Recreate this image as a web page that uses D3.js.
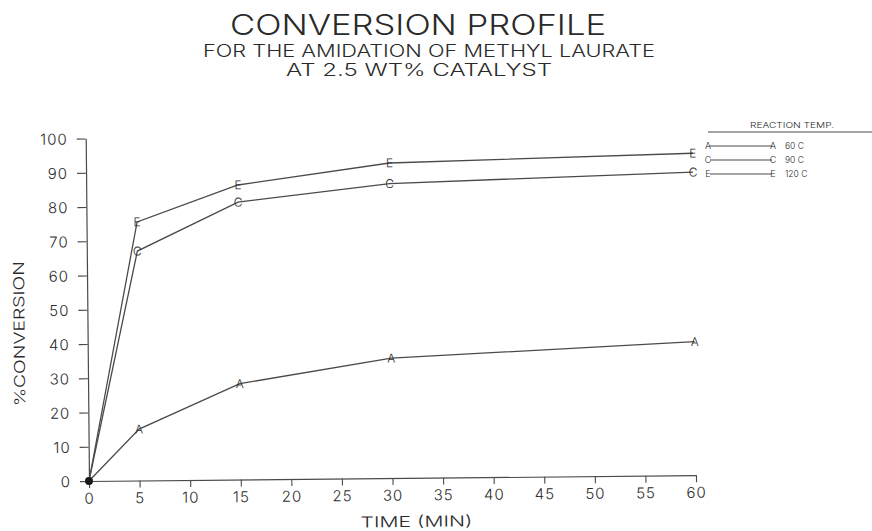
<!DOCTYPE html>
<html>
<head>
<meta charset="utf-8">
<script src="https://cdn.jsdelivr.net/npm/d3@7"></script>
<style>
  html, body { margin: 0; padding: 0; background: #fff; }
  svg { display: block; }
  text { font-family: Inter, "DejaVu Sans", sans-serif; font-weight: 300; fill: #2a2a2a; }
</style>
</head>
<body>
<svg id="chart" width="872" height="531"></svg>
<script>
// Reaction time (minutes) at which conversion was sampled
const times = [0, 5, 15, 30, 60];
// % conversion at each temperature
const conv60 = [0, 15, 28, 35, 39];
const conv90 = [0, 67, 81, 86, 88.5];
const conv120 = [0, 75.5, 86, 92, 94];
const seriesLabels = ["60 C", "90 C", "120 C"];
const seriesGlyphs = ["A", "C", "E"];
const xTicks = [0, 5, 10, 15, 20, 25, 30, 35, 40, 45, 50, 55, 60];
const yTicks = [0, 10, 20, 30, 40, 50, 60, 70, 80, 90, 100];
const titleLines = ["CONVERSION PROFILE", "FOR THE AMIDATION OF METHYL LAURATE", "AT 2.5 WT% CATALYST"];
const xTitle = "TIME (MIN)";
const yTitle = "%CONVERSION";
const legendTitle = "REACTION TEMP.";

const svg = d3.select("#chart");
const ink = "#4a4a4a";

// Titles
const titleSpecs = [
  { x: 418, y: 35, size: 28, len: 376 },
  { x: 429, y: 57, size: 17, len: 452 },
  { x: 419, y: 76, size: 17, len: 266 }
];
svg.selectAll("text.title").data(titleLines).join("text")
  .attr("class", "title")
  .attr("x", (d, i) => titleSpecs[i].x)
  .attr("y", (d, i) => titleSpecs[i].y)
  .attr("text-anchor", "middle")
  .attr("font-size", (d, i) => titleSpecs[i].size)
  .attr("textLength", (d, i) => titleSpecs[i].len)
  .attr("lengthAdjust", "spacingAndGlyphs")
  .text(d => d);

// Plot frame, origin at the axes' corner; the sheet sits slightly skewed on the plotter
const plot = svg.append("g").attr("transform", "translate(89,481) rotate(-0.55)");

const x = d3.scaleLinear().domain([0, 60]).range([0, 607]);
const y = d3.scaleLinear().domain([0, 100]).range([0, -342.5]);

const xAxis = d3.axisBottom(x).tickValues(xTicks).tickSize(7).tickSizeOuter(0).tickPadding(5)
  .tickFormat(d3.format("d"));
const yAxis = d3.axisLeft(y).tickValues(yTicks).tickSize(9).tickSizeOuter(0).tickPadding(9)
  .tickFormat(d3.format("d"));

const gx = plot.append("g").call(xAxis);
const gy = plot.append("g").call(yAxis);
[gx, gy].forEach(g => {
  g.select(".domain").attr("stroke", ink).attr("stroke-width", 1.2);
  g.selectAll(".tick line").attr("stroke", ink).attr("stroke-width", 1.1);
  g.selectAll(".tick text").attr("font-size", 15).attr("letter-spacing", 1)
    .style("font-family", "Inter, 'DejaVu Sans', sans-serif").attr("fill", "#2a2a2a");
});
gy.selectAll(".tick text").attr("dy", "0.36em");

// Axis titles
plot.append("text")
  .attr("x", 327).attr("y", 49)
  .attr("text-anchor", "middle").attr("font-size", 15)
  .attr("textLength", 112).attr("lengthAdjust", "spacingAndGlyphs")
  .text(xTitle);
plot.append("text")
  .attr("transform", "translate(-63,-148) rotate(-90)")
  .attr("text-anchor", "middle").attr("font-size", 15)
  .attr("textLength", 145).attr("lengthAdjust", "spacingAndGlyphs")
  .text(yTitle);

// Series
const series = [conv60, conv90, conv120].map((vals, i) => ({
  glyph: seriesGlyphs[i],
  label: seriesLabels[i],
  points: times.map((t, j) => ({ t, v: vals[j] }))
}));

const line = d3.line().x(d => x(d.t)).y(d => y(d.v));
plot.selectAll("path.series").data(series).join("path")
  .attr("class", "series")
  .attr("d", d => line(d.points))
  .attr("fill", "none").attr("stroke", ink).attr("stroke-width", 1.3);

// Letter markers at each sampled time (the origin gets a solid dot instead)
series.forEach(s => {
  plot.selectAll(null).data(s.points.filter(p => p.t > 0)).join("text")
    .attr("x", p => x(p.t)).attr("y", p => y(p.v))
    .attr("dy", "0.36em").attr("text-anchor", "middle")
    .attr("font-size", 12).attr("font-weight", 600)
    .text(s.glyph);
});
plot.append("circle").attr("cx", x(0)).attr("cy", y(0)).attr("r", 4).attr("fill", "#1a1a1a");

// Legend
const lg = svg.append("g");
lg.append("text").attr("x", 792).attr("y", 128).attr("text-anchor", "middle")
  .attr("font-size", 8).attr("font-weight", 600)
  .attr("textLength", 84).attr("lengthAdjust", "spacingAndGlyphs")
  .text(legendTitle);
lg.append("line").attr("x1", 708).attr("x2", 872).attr("y1", 132).attr("y2", 132)
  .attr("stroke", ink).attr("stroke-width", 1.2);
const rowY = [146, 160, 174];
const rows = lg.selectAll("g.row").data(series).join("g")
  .attr("class", "row")
  .attr("transform", (d, i) => `translate(0,${rowY[i]})`);
rows.append("line").attr("x1", 710).attr("x2", 772).attr("stroke", ink).attr("stroke-width", 1.2);
rows.append("text").attr("x", 708).attr("dy", "0.36em").attr("text-anchor", "middle")
  .attr("font-size", 9).attr("font-weight", 600).text(d => d.glyph);
rows.append("text").attr("x", 773).attr("dy", "0.36em").attr("text-anchor", "middle")
  .attr("font-size", 9).attr("font-weight", 600).text(d => d.glyph);
rows.append("text").attr("x", 785).attr("dy", "0.36em")
  .attr("font-size", 8.5).attr("font-weight", 700).text(d => d.label);
</script>
</body>
</html>
